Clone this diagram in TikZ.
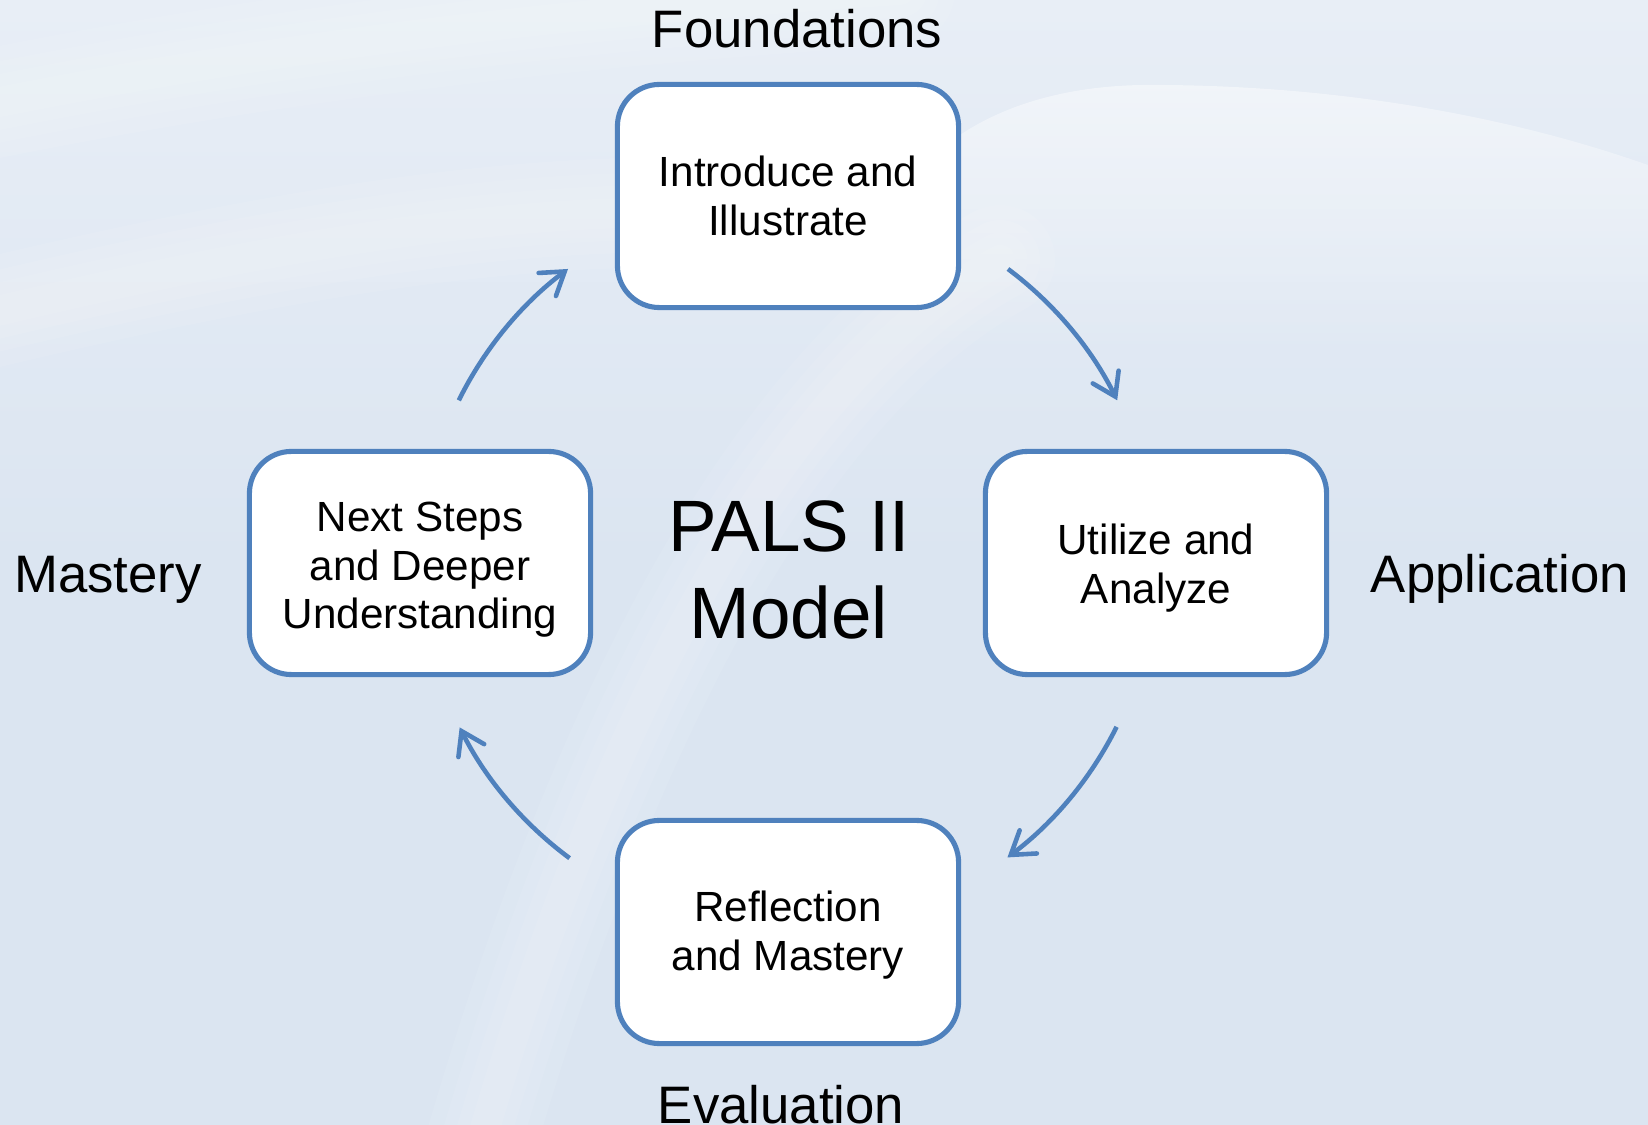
\documentclass[tikz,border=0pt]{standalone}
\usepackage{fontspec}
\setmainfont{Liberation Sans}
\usetikzlibrary{arrows.meta,fadings}

\definecolor{bgblue}{RGB}{219,229,241}
\definecolor{bglight}{RGB}{232,238,246}
\definecolor{boxblue}{RGB}{79,129,189}

% invisible strut that lowers the text block inside a box
\newcommand{\toppad}[1]{\rule{0pt}{#1}}

\tikzset{
  stagebox/.style={draw=boxblue, line width=1.45pt, fill=white,
    rounded corners=0.42cm, minimum width=3.41cm, minimum height=2.23cm,
    align=center, font=\fontsize{12}{13.9}\selectfont, inner sep=0pt},
  phase/.style={anchor=base, font=\fontsize{15}{18}\selectfont, inner sep=0pt},
  cycle arrow/.style={draw=boxblue, line width=1.3pt,
    -{Straight Barb[length=6.2pt, width=8.2pt, line cap=round]}},
  glow/.style={draw=white, line cap=round, opacity=0.08},
}

\begin{document}
\begin{tikzpicture}[x=0.01cm, y=-0.01cm]
  % canvas and soft background waves
  \useasboundingbox (0,0) rectangle (1648,1125);
  \shade[top color=bglight, bottom color=bgblue, middle color=bgblue]
    (0,0) rectangle (1648,1125);
  \foreach \w in {110,80,55,30}{
    \draw[glow, line width=\w*0.01cm]
      (470,1180) .. controls (600,720) and (780,380) .. (1000,260);
    \draw[glow, line width=\w*0.01cm]
      (-40,320) .. controls (250,250) and (520,200) .. (760,215);
    \draw[glow, line width=\w*0.01cm]
      (-40,110) .. controls (300,40) and (600,10) .. (900,-10);
  }
  \fill[white, opacity=0.45, path fading=south]
    (940,150) .. controls (1000,100) and (1080,85) .. (1150,85)
    .. controls (1350,85) and (1520,120) .. (1648,165)
    -- (1648,360) -- (940,360) -- cycle;

  % centre of the cycle
  \coordinate (c) at (788,563);

  % stage boxes
  \node[stagebox] (intro) at (788,196) {Introduce and\\Illustrate};
  \node[stagebox] (util)  at (1156,563) {\toppad{11.8pt}Utilize and\\Analyze};
  \node[stagebox] (refl)  at (788,932) {\toppad{10.6pt}Reflection\\and Mastery};
  \node[stagebox] (next)  at (420,563)
    {\toppad{12.2pt}Next Steps\\and Deeper\\Understanding};

  % model title
  \node[align=center, inner sep=0pt,
        font=\fontsize{20.7}{24.6}\selectfont] (title) at (789,570)
    {PALS II\\Model};

  % phase labels
  \node[phase] (found) at (797,48)   {Foundations};
  \node[phase] (appl)  at (1500,593) {Application};
  \node[phase] (eval)  at (781,1123) {Evaluation};
  \node[phase] (mast)  at (108,593)  {Mastery};

  % cycle arrows, arcs around the centre
  \draw[cycle arrow] ([shift={(153.7:3.67cm)}]c)
    arc[start angle=153.7, end angle=126.8, radius=3.67cm];
  \draw[cycle arrow] ([shift={(53.2:3.67cm)}]c)
    arc[start angle=53.2, end angle=26.3, radius=3.67cm];
  \draw[cycle arrow] ([shift={(-26.5:3.67cm)}]c)
    arc[start angle=-26.5, end angle=-53.3, radius=3.67cm];
  \draw[cycle arrow] ([shift={(-126.5:3.67cm)}]c)
    arc[start angle=-126.5, end angle=-153.4, radius=3.67cm];
\end{tikzpicture}
\end{document}
